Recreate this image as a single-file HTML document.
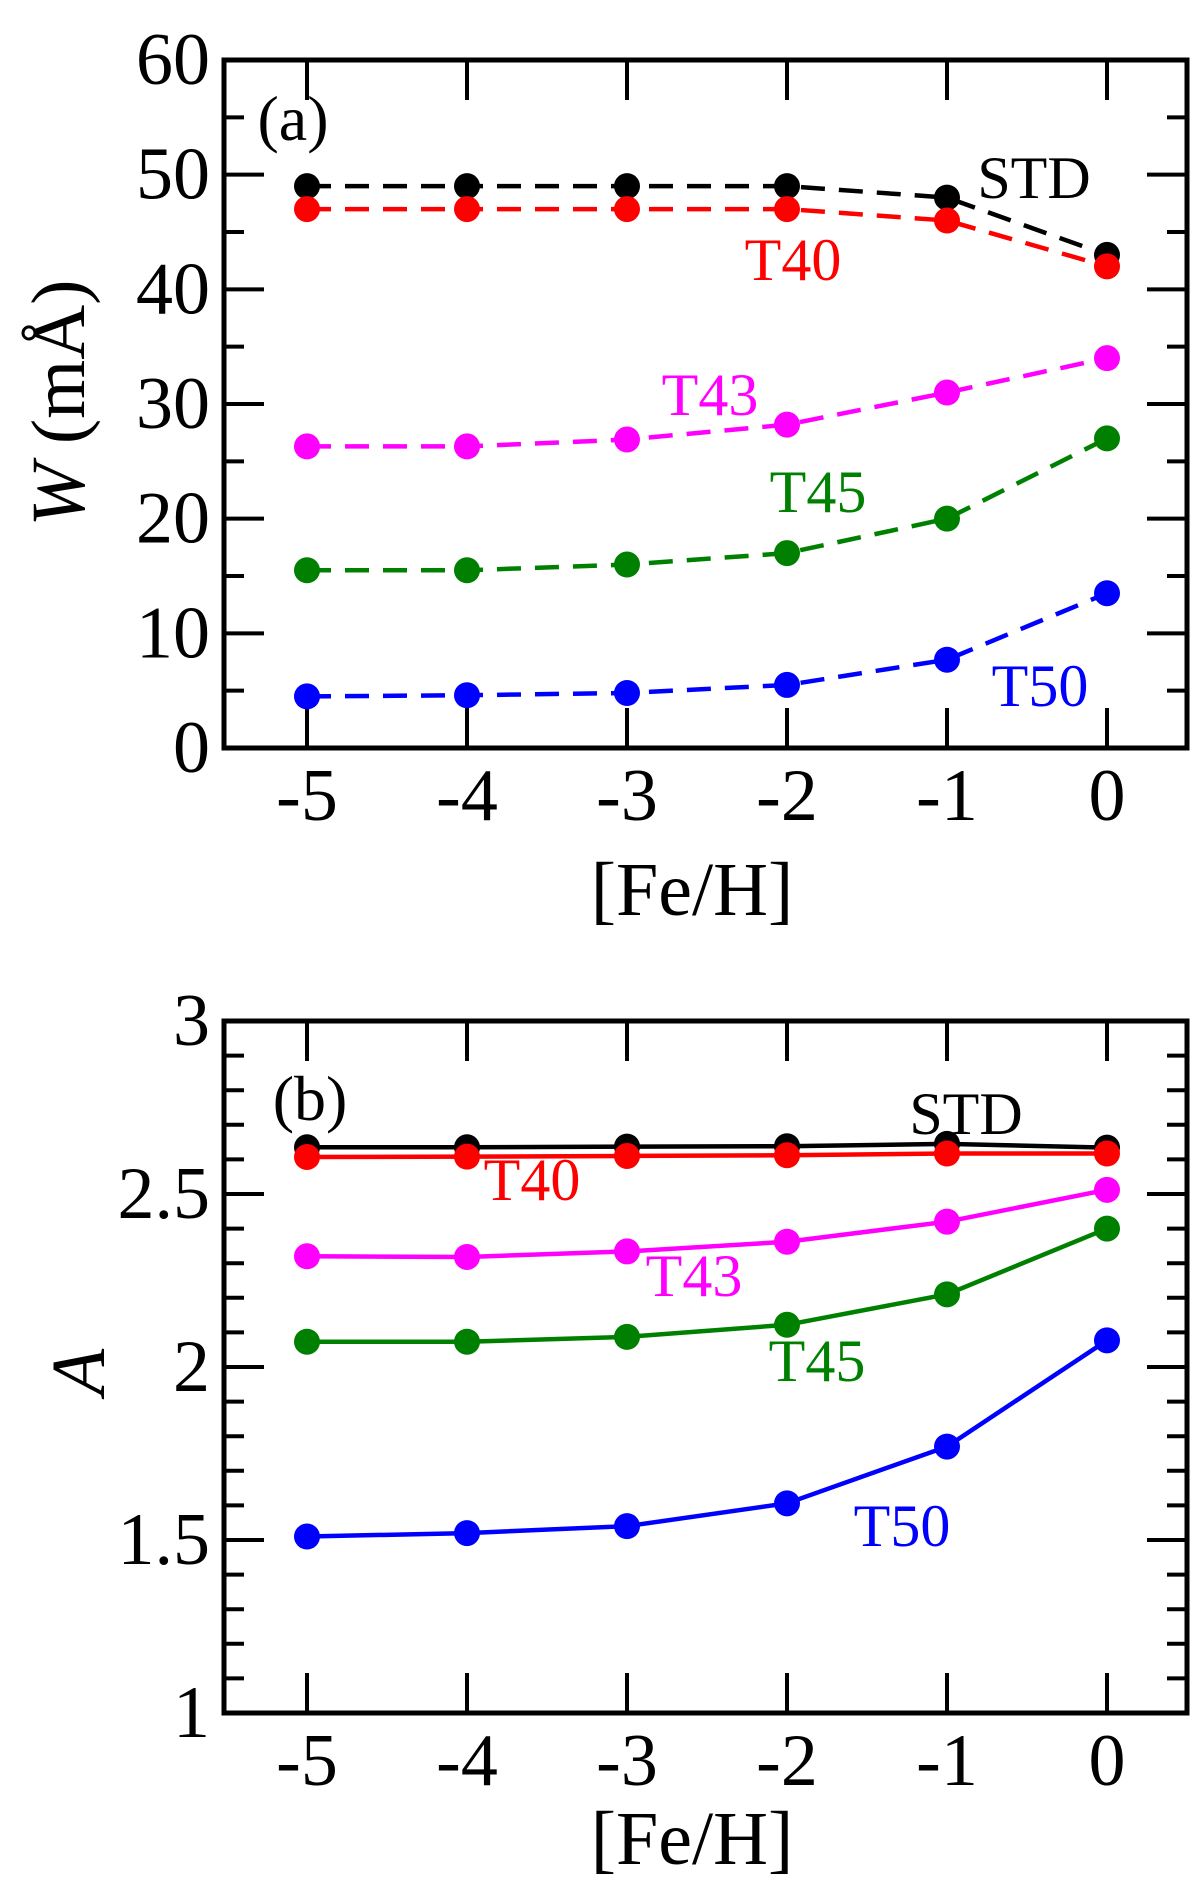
<!DOCTYPE html>
<html><head><meta charset="utf-8"><style>
html,body{margin:0;padding:0;background:#fff}
svg{display:block}
svg text{font-family:"Liberation Serif","Times New Roman",Times,serif}
</style></head><body>
<svg id="c" width="1200" height="1888" viewBox="0 0 1200 1888" xmlns="http://www.w3.org/2000/svg" font-family="Liberation Serif, Times New Roman, serif"></svg>
<script>
const feh=[-5,-4,-3,-2,-1,0];
const xTicks=[-5,-4,-3,-2,-1,0];
const seriesNames=["STD","T40","T43","T45","T50"];
const seriesColors=["#000000","#ff0000","#ff00ff","#008000","#0000ff"];
const wSTD=[49,49,49,49,48,43];
const wT40=[47,47,47,47,46,42];
const wT43=[26.3,26.3,26.9,28.2,31,34];
const wT45=[15.5,15.5,16,17,20,27];
const wT50=[4.5,4.6,4.8,5.5,7.7,13.5];
const aSTD=[2.635,2.635,2.637,2.638,2.645,2.634];
const aT40=[2.607,2.608,2.61,2.612,2.617,2.617];
const aT43=[2.32,2.318,2.334,2.362,2.42,2.512];
const aT45=[2.073,2.073,2.087,2.122,2.21,2.40];
const aT50=[1.51,1.52,1.54,1.606,1.77,2.077];
const wTicks=[0,10,20,30,40,50,60];
const aTicks=[1,1.5,2,2.5,3];
const aTickLabels=["1","1.5","2","2.5","3"];

const NS="http://www.w3.org/2000/svg";
const svg=document.getElementById('c');
const FONT='"Liberation Serif","Times New Roman",serif';
function el(tag,attrs,parent){const e=document.createElementNS(NS,tag);for(const k in attrs)e.setAttribute(k,attrs[k]);if(tag==='text')e.setAttribute('style','font-family:'+FONT);(parent||svg).appendChild(e);return e;}
const X0=224,X1=1187;
function xs(v){return 307+(v+5)*160;}

function panel(cfg){
  const g=el('g',{});
  
  
  const ys=v=>cfg.yb+(v-cfg.ymin)/(cfg.ymax-cfg.ymin)*(cfg.yt-cfg.yb);
  xTicks.forEach(t=>{
    const x=xs(t);
    const tk=el('line',{x1:x,x2:x,y1:cfg.yb,y2:cfg.yb-40,stroke:'#000','stroke-width':4},g);
    
    
    el('line',{x1:x,x2:x,y1:cfg.yt,y2:cfg.yt+40,stroke:'#000','stroke-width':4},g);
    const lb=el('text',{x:x,y:cfg.yb+72,'font-size':74,'text-anchor':'middle'},g);
    lb.textContent=t===0?'0':'-'+Math.abs(t);
    
    
  });
  for(let v=cfg.ymin;v<=cfg.ymax+1e-9;v+=cfg.minor){
    const y=ys(v);
    const major=Math.abs(Math.round(v/cfg.major)*cfg.major-v)<1e-6;
    const L=major?40:20;
    el('line',{x1:X0,x2:X0+L,y1:y,y2:y,stroke:'#000','stroke-width':4},g);
    el('line',{x1:X1,x2:X1-L,y1:y,y2:y,stroke:'#000','stroke-width':4},g);
  }
  cfg.ticks.forEach((t,i)=>{
    const lb=el('text',{x:210,y:ys(t)+24,'font-size':74,'text-anchor':'end'},g);
    lb.textContent=cfg.tickLabels[i];
    
    
  });
  const fr=el('rect',{x:X0,y:cfg.yt,width:X1-X0,height:cfg.yb-cfg.yt,fill:'none',stroke:'#000','stroke-width':5},g);
  
  
  cfg.series.forEach((vals,si)=>{
    const col=seriesColors[si];
    const pts=vals.map((v,i)=>xs(feh[i])+','+ys(v)).join(' ');
    const pl=el('polyline',{points:pts,fill:'none',stroke:col,'stroke-width':4.5},g);
    if(cfg.dashed)pl.setAttribute('stroke-dasharray','24 14');
    
    
    vals.forEach((v,i)=>{
      const c=el('circle',{cx:xs(feh[i]),cy:ys(v),r:13,fill:col},g);
      
      
    });
  });
  cfg.labels.forEach((L,si)=>{
    const t=el('text',{x:L[0],y:L[1],'font-size':60,fill:seriesColors[si],'text-anchor':'middle'},g);
    t.textContent=seriesNames[si];
    
    
  });
  const pl=el('text',{x:cfg.pl[0],y:cfg.pl[1],'font-size':64,'text-anchor':'middle'},g);
  pl.textContent=cfg.plabel;
  
  
  const xt=el('text',{x:692,y:cfg.xtY,'font-size':76,'text-anchor':'middle'},g);
  xt.textContent='[Fe/H]';
  
  
  const yt=el('text',{x:0,y:0,'font-size':76,'text-anchor':'middle',transform:'translate('+cfg.ytPos[0]+','+cfg.ytPos[1]+') rotate(-90)'},g);
  yt.innerHTML=cfg.ytitle;
  
  
}
panel({name:'panel-a',yt:60,yb:748,ymin:0,ymax:60,minor:5,major:10,ticks:wTicks,tickLabels:wTicks.map(String),
  series:[wSTD,wT40,wT43,wT45,wT50],dashed:true,
  labels:[[1034,198],[793,280],[710,415],[818,512],[1040,706]],pl:[293,140],plabel:'(a)',xtY:915,
  ytitle:'<tspan font-style="italic">W</tspan> (mÅ)',ytPos:[84,403]});
panel({name:'panel-b',yt:1021,yb:1713,ymin:1,ymax:3,minor:0.1,major:0.5,ticks:aTicks,tickLabels:aTickLabels,
  series:[aSTD,aT40,aT43,aT45,aT50],dashed:false,
  labels:[[966,1134],[532,1200],[694,1296],[817,1381],[902,1546]],pl:[310,1120],plabel:'(b)',xtY:1864,
  ytitle:'<tspan font-style="italic">A</tspan>',ytPos:[104,1372]});
</script>
</body></html>
